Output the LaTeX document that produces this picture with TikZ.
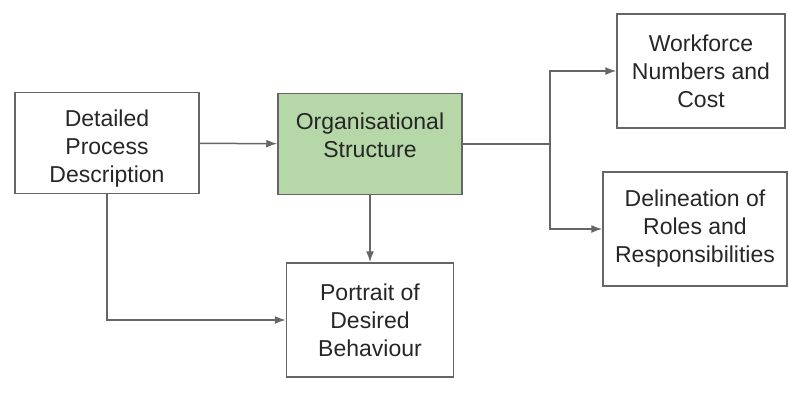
\documentclass[tikz,border=0pt]{standalone}
\usepackage{fontspec}
\setmainfont{Liberation Sans}
\usetikzlibrary{arrows.meta}
\definecolor{boxgreen}{HTML}{B6D7A8}
\definecolor{linegray}{HTML}{666666}
\definecolor{textgray}{HTML}{262626}
\newcommand{\firstgap}{\rule{0pt}{27pt}}
\begin{document}
\begin{tikzpicture}[x=1pt,y=-1pt]
        \useasboundingbox (0,0) rectangle (790,392);

        \begin{scope}[every node/.style={draw=linegray,line width=1.5pt,align=center,
            text=textgray,font=\fontsize{23}{28}\selectfont,inner sep=0pt}]
          \node[minimum width=184pt,minimum height=101pt] (process)   at (107,143) {\firstgap Detailed\\Process\\Description};
          \node[minimum width=184pt,minimum height=101pt,fill=boxgreen] (org) at (370,144) {\firstgap Organisational\\Structure\\\mbox{}};
          \node[minimum width=167pt,minimum height=114pt] (portrait)  at (370,320) {Portrait of\\Desired\\Behaviour};
          \node[minimum width=168pt,minimum height=114pt] (workforce) at (701,71)  {Workforce\\Numbers and\\Cost};
          \node[minimum width=184pt,minimum height=114pt] (roles)     at (695,229) {Delineation of\\Roles and\\Responsibilities};
        \end{scope}

        \coordinate (split) at (550,144);

        \begin{scope}[draw=linegray,line width=1.5pt,
            every edge/.style={draw,-{Latex[length=11pt,width=8pt]}}]
          \path (process) edge (org);
          \path (org) edge (portrait);
          \draw[-{Latex[length=11pt,width=8pt]}] (process.south) |- (portrait.west);
          \draw (org.east) -- (split);
          \draw[-{Latex[length=11pt,width=8pt]}] (split) |- (workforce.west);
          \draw[-{Latex[length=11pt,width=8pt]}] (split) |- (roles.west);
        \end{scope}

      \end{tikzpicture}
\end{document}
